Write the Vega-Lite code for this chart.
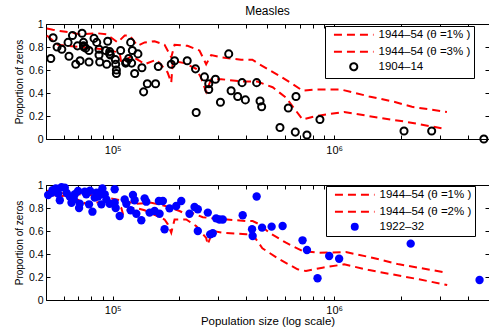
{
  "$schema": "https://vega.github.io/schema/vega-lite/v6.json",
  "padding": {"left": 13, "top": 4, "right": 0, "bottom": 0},
  "bounds": "flush",
  "spacing": 46,
  "config": {
    "font": "Liberation Sans",
    "view": {"stroke": "black", "strokeWidth": 1},
    "axis": {"domain": false, "grid": false, "tickColor": "black", "tickSize": -4, "labelFontSize": 10.5, "labelColor": "black", "labelFont": "Liberation Sans", "titleFontSize": 10, "titleFontWeight": "normal", "titleColor": "black", "titleFont": "Liberation Sans"},
    "title": {"fontSize": 12, "fontWeight": "normal", "font": "Liberation Sans", "color": "black"}
  },
  "datasets": {
    "topLines": [
      {"pop": 50440, "p": 0.96, "series": "1944–54 (θ =1% )"},
      {"pop": 53670, "p": 0.95, "series": "1944–54 (θ =1% )"},
      {"pop": 57720, "p": 0.94, "series": "1944–54 (θ =1% )"},
      {"pop": 67430, "p": 0.92, "series": "1944–54 (θ =1% )"},
      {"pop": 71030, "p": 0.91, "series": "1944–54 (θ =1% )"},
      {"pop": 84720, "p": 0.92, "series": "1944–54 (θ =1% )"},
      {"pop": 93970, "p": 0.91, "series": "1944–54 (θ =1% )"},
      {"pop": 105320, "p": 0.84, "series": "1944–54 (θ =1% )"},
      {"pop": 113270, "p": 0.90, "series": "1944–54 (θ =1% )"},
      {"pop": 119290, "p": 0.90, "series": "1944–54 (θ =1% )"},
      {"pop": 129600, "p": 0.81, "series": "1944–54 (θ =1% )"},
      {"pop": 139400, "p": 0.84, "series": "1944–54 (θ =1% )"},
      {"pop": 154600, "p": 0.85, "series": "1944–54 (θ =1% )"},
      {"pop": 171500, "p": 0.82, "series": "1944–54 (θ =1% )"},
      {"pop": 183860, "p": 0.71, "series": "1944–54 (θ =1% )"},
      {"pop": 190270, "p": 0.82, "series": "1944–54 (θ =1% )"},
      {"pop": 217700, "p": 0.81, "series": "1944–54 (θ =1% )"},
      {"pop": 246500, "p": 0.77, "series": "1944–54 (θ =1% )"},
      {"pop": 264300, "p": 0.65, "series": "1944–54 (θ =1% )"},
      {"pop": 278400, "p": 0.73, "series": "1944–54 (θ =1% )"},
      {"pop": 309700, "p": 0.71, "series": "1944–54 (θ =1% )"},
      {"pop": 379900, "p": 0.69, "series": "1944–54 (θ =1% )"},
      {"pop": 427100, "p": 0.69, "series": "1944–54 (θ =1% )"},
      {"pop": 459400, "p": 0.65, "series": "1944–54 (θ =1% )"},
      {"pop": 565200, "p": 0.55, "series": "1944–54 (θ =1% )"},
      {"pop": 646900, "p": 0.48, "series": "1944–54 (θ =1% )"},
      {"pop": 719800, "p": 0.42, "series": "1944–54 (θ =1% )"},
      {"pop": 829800, "p": 0.43, "series": "1944–54 (θ =1% )"},
      {"pop": 1075000, "p": 0.43, "series": "1944–54 (θ =1% )"},
      {"pop": 1438000, "p": 0.37, "series": "1944–54 (θ =1% )"},
      {"pop": 1897000, "p": 0.32, "series": "1944–54 (θ =1% )"},
      {"pop": 2244000, "p": 0.28, "series": "1944–54 (θ =1% )"},
      {"pop": 3228000, "p": 0.235, "series": "1944–54 (θ =1% )"},
      {"pop": 50440, "p": 0.90, "series": "1944–54 (θ =3% )"},
      {"pop": 56540, "p": 0.82, "series": "1944–54 (θ =3% )"},
      {"pop": 71030, "p": 0.80, "series": "1944–54 (θ =3% )"},
      {"pop": 92040, "p": 0.78, "series": "1944–54 (θ =3% )"},
      {"pop": 107530, "p": 0.75, "series": "1944–54 (θ =3% )"},
      {"pop": 109450, "p": 0.66, "series": "1944–54 (θ =3% )"},
      {"pop": 121400, "p": 0.72, "series": "1944–54 (θ =3% )"},
      {"pop": 132310, "p": 0.68, "series": "1944–54 (θ =3% )"},
      {"pop": 139400, "p": 0.65, "series": "1944–54 (θ =3% )"},
      {"pop": 157840, "p": 0.69, "series": "1944–54 (θ =3% )"},
      {"pop": 176900, "p": 0.58, "series": "1944–54 (θ =3% )"},
      {"pop": 183860, "p": 0.49, "series": "1944–54 (θ =3% )"},
      {"pop": 186930, "p": 0.68, "series": "1944–54 (θ =3% )"},
      {"pop": 211000, "p": 0.66, "series": "1944–54 (θ =3% )"},
      {"pop": 238230, "p": 0.61, "series": "1944–54 (θ =3% )"},
      {"pop": 250900, "p": 0.53, "series": "1944–54 (θ =3% )"},
      {"pop": 264300, "p": 0.41, "series": "1944–54 (θ =3% )"},
      {"pop": 278400, "p": 0.52, "series": "1944–54 (θ =3% )"},
      {"pop": 309700, "p": 0.52, "series": "1944–54 (θ =3% )"},
      {"pop": 381100, "p": 0.50, "series": "1944–54 (θ =3% )"},
      {"pop": 450000, "p": 0.50, "series": "1944–54 (θ =3% )"},
      {"pop": 527400, "p": 0.45, "series": "1944–54 (θ =3% )"},
      {"pop": 605900, "p": 0.36, "series": "1944–54 (θ =3% )"},
      {"pop": 719800, "p": 0.17, "series": "1944–54 (θ =3% )"},
      {"pop": 827300, "p": 0.20, "series": "1944–54 (θ =3% )"},
      {"pop": 1109000, "p": 0.235, "series": "1944–54 (θ =3% )"},
      {"pop": 1595000, "p": 0.185, "series": "1944–54 (θ =3% )"},
      {"pop": 2104000, "p": 0.15, "series": "1944–54 (θ =3% )"},
      {"pop": 3130000, "p": 0.09, "series": "1944–54 (θ =3% )"}
    ],
    "topPts": [
      {"pop": 52560, "p": 0.70, "series": "1904–14"},
      {"pop": 53830, "p": 0.88, "series": "1904–14"},
      {"pop": 56110, "p": 0.80, "series": "1904–14"},
      {"pop": 58930, "p": 0.78, "series": "1904–14"},
      {"pop": 62890, "p": 0.84, "series": "1904–14"},
      {"pop": 63500, "p": 0.72, "series": "1904–14"},
      {"pop": 65840, "p": 0.90, "series": "1904–14"},
      {"pop": 68130, "p": 0.65, "series": "1904–14"},
      {"pop": 69350, "p": 0.81, "series": "1904–14"},
      {"pop": 71240, "p": 0.68, "series": "1904–14"},
      {"pop": 72730, "p": 0.92, "series": "1904–14"},
      {"pop": 73800, "p": 0.84, "series": "1904–14"},
      {"pop": 73800, "p": 0.81, "series": "1904–14"},
      {"pop": 74200, "p": 0.80, "series": "1904–14"},
      {"pop": 75580, "p": 0.79, "series": "1904–14"},
      {"pop": 78200, "p": 0.77, "series": "1904–14"},
      {"pop": 78200, "p": 0.67, "series": "1904–14"},
      {"pop": 82380, "p": 0.875, "series": "1904–14"},
      {"pop": 84720, "p": 0.84, "series": "1904–14"},
      {"pop": 86760, "p": 0.78, "series": "1904–14"},
      {"pop": 86760, "p": 0.73, "series": "1904–14"},
      {"pop": 87380, "p": 0.67, "series": "1904–14"},
      {"pop": 93000, "p": 0.77, "series": "1904–14"},
      {"pop": 94950, "p": 0.85, "series": "1904–14"},
      {"pop": 93970, "p": 0.65, "series": "1904–14"},
      {"pop": 96940, "p": 0.76, "series": "1904–14"},
      {"pop": 96940, "p": 0.74, "series": "1904–14"},
      {"pop": 97640, "p": 0.73, "series": "1904–14"},
      {"pop": 102850, "p": 0.69, "series": "1904–14"},
      {"pop": 103160, "p": 0.65, "series": "1904–14"},
      {"pop": 103920, "p": 0.60, "series": "1904–14"},
      {"pop": 103920, "p": 0.57, "series": "1904–14"},
      {"pop": 108650, "p": 0.77, "series": "1904–14"},
      {"pop": 114400, "p": 0.66, "series": "1904–14"},
      {"pop": 115290, "p": 0.67, "series": "1904–14"},
      {"pop": 118080, "p": 0.70, "series": "1904–14"},
      {"pop": 120550, "p": 0.84, "series": "1904–14"},
      {"pop": 122680, "p": 0.77, "series": "1904–14"},
      {"pop": 121800, "p": 0.66, "series": "1904–14"},
      {"pop": 125640, "p": 0.57, "series": "1904–14"},
      {"pop": 130020, "p": 0.74, "series": "1904–14"},
      {"pop": 135520, "p": 0.62, "series": "1904–14"},
      {"pop": 137960, "p": 0.41, "series": "1904–14"},
      {"pop": 143350, "p": 0.48, "series": "1904–14"},
      {"pop": 156200, "p": 0.48, "series": "1904–14"},
      {"pop": 160640, "p": 0.63, "series": "1904–14"},
      {"pop": 183860, "p": 0.65, "series": "1904–14"},
      {"pop": 190270, "p": 0.68, "series": "1904–14"},
      {"pop": 217020, "p": 0.68, "series": "1904–14"},
      {"pop": 238230, "p": 0.23, "series": "1904–14"},
      {"pop": 236530, "p": 0.61, "series": "1904–14"},
      {"pop": 259660, "p": 0.54, "series": "1904–14"},
      {"pop": 271520, "p": 0.48, "series": "1904–14"},
      {"pop": 271520, "p": 0.43, "series": "1904–14"},
      {"pop": 291070, "p": 0.52, "series": "1904–14"},
      {"pop": 306550, "p": 0.32, "series": "1904–14"},
      {"pop": 334120, "p": 0.74, "series": "1904–14"},
      {"pop": 342530, "p": 0.42, "series": "1904–14"},
      {"pop": 366770, "p": 0.37, "series": "1904–14"},
      {"pop": 383850, "p": 0.49, "series": "1904–14"},
      {"pop": 397300, "p": 0.34, "series": "1904–14"},
      {"pop": 446700, "p": 0.49, "series": "1904–14"},
      {"pop": 462700, "p": 0.33, "series": "1904–14"},
      {"pop": 470500, "p": 0.28, "series": "1904–14"},
      {"pop": 569200, "p": 0.10, "series": "1904–14"},
      {"pop": 620600, "p": 0.27, "series": "1904–14"},
      {"pop": 672300, "p": 0.37, "series": "1904–14"},
      {"pop": 667400, "p": 0.06, "series": "1904–14"},
      {"pop": 753400, "p": 0.035, "series": "1904–14"},
      {"pop": 862300, "p": 0.17, "series": "1904–14"},
      {"pop": 2067000, "p": 0.07, "series": "1904–14"},
      {"pop": 2755000, "p": 0.07, "series": "1904–14"},
      {"pop": 4740000, "p": 0.0, "series": "1904–14"}
    ],
    "botLines": [
      {"pop": 50440, "p": 0.95, "series": "1944–54 (θ =1% )"},
      {"pop": 57720, "p": 0.93, "series": "1944–54 (θ =1% )"},
      {"pop": 67430, "p": 0.92, "series": "1944–54 (θ =1% )"},
      {"pop": 84720, "p": 0.91, "series": "1944–54 (θ =1% )"},
      {"pop": 93970, "p": 0.89, "series": "1944–54 (θ =1% )"},
      {"pop": 103920, "p": 0.875, "series": "1944–54 (θ =1% )"},
      {"pop": 113270, "p": 0.86, "series": "1944–54 (θ =1% )"},
      {"pop": 127880, "p": 0.837, "series": "1944–54 (θ =1% )"},
      {"pop": 149400, "p": 0.846, "series": "1944–54 (θ =1% )"},
      {"pop": 171500, "p": 0.82, "series": "1944–54 (θ =1% )"},
      {"pop": 200400, "p": 0.774, "series": "1944–54 (θ =1% )"},
      {"pop": 214800, "p": 0.745, "series": "1944–54 (θ =1% )"},
      {"pop": 226200, "p": 0.76, "series": "1944–54 (θ =1% )"},
      {"pop": 255200, "p": 0.72, "series": "1944–54 (θ =1% )"},
      {"pop": 283000, "p": 0.71, "series": "1944–54 (θ =1% )"},
      {"pop": 400300, "p": 0.687, "series": "1944–54 (θ =1% )"},
      {"pop": 428500, "p": 0.687, "series": "1944–54 (θ =1% )"},
      {"pop": 459400, "p": 0.658, "series": "1944–54 (θ =1% )"},
      {"pop": 509500, "p": 0.585, "series": "1944–54 (θ =1% )"},
      {"pop": 605900, "p": 0.498, "series": "1944–54 (θ =1% )"},
      {"pop": 719800, "p": 0.426, "series": "1944–54 (θ =1% )"},
      {"pop": 855900, "p": 0.411, "series": "1944–54 (θ =1% )"},
      {"pop": 1129000, "p": 0.417, "series": "1944–54 (θ =1% )"},
      {"pop": 1486000, "p": 0.368, "series": "1944–54 (θ =1% )"},
      {"pop": 1963000, "p": 0.31, "series": "1944–54 (θ =1% )"},
      {"pop": 3238000, "p": 0.237, "series": "1944–54 (θ =1% )"},
      {"pop": 50440, "p": 0.92, "series": "1944–54 (θ =2% )"},
      {"pop": 57720, "p": 0.90, "series": "1944–54 (θ =2% )"},
      {"pop": 62890, "p": 0.913, "series": "1944–54 (θ =2% )"},
      {"pop": 75580, "p": 0.837, "series": "1944–54 (θ =2% )"},
      {"pop": 87380, "p": 0.85, "series": "1944–54 (θ =2% )"},
      {"pop": 103920, "p": 0.84, "series": "1944–54 (θ =2% )"},
      {"pop": 109450, "p": 0.80, "series": "1944–54 (θ =2% )"},
      {"pop": 111300, "p": 0.745, "series": "1944–54 (θ =2% )"},
      {"pop": 119290, "p": 0.80, "series": "1944–54 (θ =2% )"},
      {"pop": 127880, "p": 0.80, "series": "1944–54 (θ =2% )"},
      {"pop": 139400, "p": 0.78, "series": "1944–54 (θ =2% )"},
      {"pop": 171500, "p": 0.70, "series": "1944–54 (θ =2% )"},
      {"pop": 177500, "p": 0.658, "series": "1944–54 (θ =2% )"},
      {"pop": 183860, "p": 0.585, "series": "1944–54 (θ =2% )"},
      {"pop": 190270, "p": 0.70, "series": "1944–54 (θ =2% )"},
      {"pop": 214800, "p": 0.70, "series": "1944–54 (θ =2% )"},
      {"pop": 238230, "p": 0.643, "series": "1944–54 (θ =2% )"},
      {"pop": 264300, "p": 0.54, "series": "1944–54 (θ =2% )"},
      {"pop": 268800, "p": 0.484, "series": "1944–54 (θ =2% )"},
      {"pop": 283000, "p": 0.60, "series": "1944–54 (θ =2% )"},
      {"pop": 314000, "p": 0.585, "series": "1944–54 (θ =2% )"},
      {"pop": 400300, "p": 0.571, "series": "1944–54 (θ =2% )"},
      {"pop": 428500, "p": 0.571, "series": "1944–54 (θ =2% )"},
      {"pop": 474000, "p": 0.45, "series": "1944–54 (θ =2% )"},
      {"pop": 565200, "p": 0.354, "series": "1944–54 (θ =2% )"},
      {"pop": 683500, "p": 0.267, "series": "1944–54 (θ =2% )"},
      {"pop": 745800, "p": 0.252, "series": "1944–54 (θ =2% )"},
      {"pop": 885800, "p": 0.281, "series": "1944–54 (θ =2% )"},
      {"pop": 1109000, "p": 0.31, "series": "1944–54 (θ =2% )"},
      {"pop": 1438000, "p": 0.26, "series": "1944–54 (θ =2% )"},
      {"pop": 1830000, "p": 0.223, "series": "1944–54 (θ =2% )"},
      {"pop": 2415000, "p": 0.18, "series": "1944–54 (θ =2% )"},
      {"pop": 3238000, "p": 0.13, "series": "1944–54 (θ =2% )"}
    ],
    "botPts": [
      {"pop": 51130, "p": 0.913, "series": "1922–32"},
      {"pop": 52950, "p": 0.933, "series": "1922–32"},
      {"pop": 53500, "p": 0.955, "series": "1922–32"},
      {"pop": 55360, "p": 0.97, "series": "1922–32"},
      {"pop": 56700, "p": 0.925, "series": "1922–32"},
      {"pop": 57720, "p": 0.867, "series": "1922–32"},
      {"pop": 58730, "p": 0.98, "series": "1922–32"},
      {"pop": 60780, "p": 0.977, "series": "1922–32"},
      {"pop": 62000, "p": 0.93, "series": "1922–32"},
      {"pop": 64000, "p": 0.90, "series": "1922–32"},
      {"pop": 65160, "p": 0.846, "series": "1922–32"},
      {"pop": 66730, "p": 0.875, "series": "1922–32"},
      {"pop": 67500, "p": 0.92, "series": "1922–32"},
      {"pop": 69780, "p": 0.948, "series": "1922–32"},
      {"pop": 70510, "p": 0.80, "series": "1922–32"},
      {"pop": 71030, "p": 0.837, "series": "1922–32"},
      {"pop": 74800, "p": 0.942, "series": "1922–32"},
      {"pop": 76000, "p": 0.92, "series": "1922–32"},
      {"pop": 78200, "p": 0.832, "series": "1922–32"},
      {"pop": 79000, "p": 0.95, "series": "1922–32"},
      {"pop": 81020, "p": 0.768, "series": "1922–32"},
      {"pop": 82970, "p": 0.89, "series": "1922–32"},
      {"pop": 84460, "p": 0.933, "series": "1922–32"},
      {"pop": 86000, "p": 0.90, "series": "1922–32"},
      {"pop": 87380, "p": 0.933, "series": "1922–32"},
      {"pop": 88930, "p": 0.832, "series": "1922–32"},
      {"pop": 89870, "p": 0.97, "series": "1922–32"},
      {"pop": 92040, "p": 0.919, "series": "1922–32"},
      {"pop": 93660, "p": 0.875, "series": "1922–32"},
      {"pop": 96940, "p": 0.837, "series": "1922–32"},
      {"pop": 102100, "p": 0.963, "series": "1922–32"},
      {"pop": 102100, "p": 0.846, "series": "1922–32"},
      {"pop": 103160, "p": 0.80, "series": "1922–32"},
      {"pop": 107530, "p": 0.73, "series": "1922–32"},
      {"pop": 113270, "p": 0.875, "series": "1922–32"},
      {"pop": 115290, "p": 0.837, "series": "1922–32"},
      {"pop": 120550, "p": 0.78, "series": "1922–32"},
      {"pop": 123430, "p": 0.913, "series": "1922–32"},
      {"pop": 125640, "p": 0.867, "series": "1922–32"},
      {"pop": 127880, "p": 0.75, "series": "1922–32"},
      {"pop": 134680, "p": 0.693, "series": "1922–32"},
      {"pop": 139400, "p": 0.884, "series": "1922–32"},
      {"pop": 141860, "p": 0.855, "series": "1922–32"},
      {"pop": 146800, "p": 0.76, "series": "1922–32"},
      {"pop": 154600, "p": 0.774, "series": "1922–32"},
      {"pop": 161640, "p": 0.861, "series": "1922–32"},
      {"pop": 162800, "p": 0.75, "series": "1922–32"},
      {"pop": 168500, "p": 0.861, "series": "1922–32"},
      {"pop": 171500, "p": 0.615, "series": "1922–32"},
      {"pop": 180600, "p": 0.797, "series": "1922–32"},
      {"pop": 193600, "p": 0.817, "series": "1922–32"},
      {"pop": 204000, "p": 0.861, "series": "1922–32"},
      {"pop": 222300, "p": 0.75, "series": "1922–32"},
      {"pop": 234200, "p": 0.809, "series": "1922–32"},
      {"pop": 242300, "p": 0.789, "series": "1922–32"},
      {"pop": 242300, "p": 0.60, "series": "1922–32"},
      {"pop": 268800, "p": 0.76, "series": "1922–32"},
      {"pop": 275500, "p": 0.571, "series": "1922–32"},
      {"pop": 283000, "p": 0.58, "series": "1922–32"},
      {"pop": 293100, "p": 0.71, "series": "1922–32"},
      {"pop": 303400, "p": 0.70, "series": "1922–32"},
      {"pop": 314000, "p": 0.70, "series": "1922–32"},
      {"pop": 386300, "p": 0.737, "series": "1922–32"},
      {"pop": 425800, "p": 0.615, "series": "1922–32"},
      {"pop": 428500, "p": 0.557, "series": "1922–32"},
      {"pop": 446700, "p": 0.90, "series": "1922–32"},
      {"pop": 472500, "p": 0.629, "series": "1922–32"},
      {"pop": 521900, "p": 0.638, "series": "1922–32"},
      {"pop": 585000, "p": 0.643, "series": "1922–32"},
      {"pop": 719800, "p": 0.519, "series": "1922–32"},
      {"pop": 753400, "p": 0.435, "series": "1922–32"},
      {"pop": 841100, "p": 0.189, "series": "1922–32"},
      {"pop": 949500, "p": 0.383, "series": "1922–32"},
      {"pop": 1053000, "p": 0.359, "series": "1922–32"},
      {"pop": 2215000, "p": 0.49, "series": "1922–32"},
      {"pop": 4532000, "p": 0.174, "series": "1922–32"}
    ]
  },
  "resolve": {"scale": {"color": "independent"}, "legend": {"color": "independent"}},
  "vconcat": [
    {
      "width": 443,
      "height": 115,
      "title": {"text": "Measles", "offset": 1},
      "layer": [
        {
          "data": {"name": "topLines"},
          "mark": {"type": "line", "strokeDash": [8, 5], "strokeWidth": 2},
          "encoding": {
            "x": {"field": "pop", "type": "quantitative", "scale": {"type": "log", "domain": [50000, 5000000]},
              "axis": {"orient": "top", "labels": false, "title": null, "values": [50000,60000,70000,80000,90000,100000,200000,300000,400000,500000,600000,700000,800000,900000,1000000,2000000,3000000,4000000,5000000]}},
            "y": {"field": "p", "type": "quantitative", "scale": {"domain": [0, 1]},
              "axis": {"orient": "right", "labels": false, "title": null, "values": [0, 0.2, 0.4, 0.6, 0.8, 1]}},
            "color": {"field": "series", "type": "nominal",
              "scale": {"domain": ["1944–54 (θ =1% )", "1944–54 (θ =3% )", "1904–14"], "range": ["#ff0000", "#ff0000", "#000000"]},
              "legend": {
                "title": null, "orient": "none", "legendX": 279, "legendY": 2,
                "strokeColor": "black", "fillColor": "white", "padding": 3, "cornerRadius": 0,
                "labelFontSize": 11.5, "labelFont": "Liberation Sans", "labelColor": "black",
                "symbolSize": 50, "symbolStrokeWidth": 2, "symbolOffset": 20, "labelOffset": 19,
                "rowPadding": -2,
                "encode": {"symbols": {"update": {
                  "shape": {"signal": "datum.value === '1904–14' ? 'circle' : 'M-5.6,0H5.6M0,-1.4M0,1.4'"},
                  "strokeDash": {"signal": "datum.value === '1904–14' ? [1, 0] : [8, 5]"},
                  "fill": {"value": "transparent"},
                  "strokeWidth": {"value": 2}
                }}}
              }}
          }
        },
        {
          "data": {"name": "topPts"},
          "mark": {"type": "point", "filled": false, "size": 50, "strokeWidth": 2, "opacity": 1},
          "encoding": {
            "x": {"field": "pop", "type": "quantitative", "scale": {"type": "log", "domain": [50000, 5000000]},
              "axis": {"orient": "bottom", "title": null, "labelPadding": 9, "labelFontSize": 11, "values": [50000,60000,70000,80000,90000,100000,200000,300000,400000,500000,600000,700000,800000,900000,1000000,2000000,3000000,4000000,5000000],
                "labelExpr": "datum.value == 100000 ? '10⁵' : (datum.value == 1000000 ? '10⁶' : '')"}},
            "y": {"field": "p", "type": "quantitative", "scale": {"domain": [0, 1]},
              "axis": {"orient": "left", "title": "Proportion of zeros", "values": [0, 0.2, 0.4, 0.6, 0.8, 1], "format": "~g", "labelPadding": 7, "titlePadding": 4}},
            "color": {"field": "series", "type": "nominal"}
          }
        }
      ]
    },
    {
      "width": 443,
      "height": 115,
      "layer": [
        {
          "data": {"name": "botLines"},
          "mark": {"type": "line", "strokeDash": [8, 5], "strokeWidth": 2},
          "encoding": {
            "x": {"field": "pop", "type": "quantitative", "scale": {"type": "log", "domain": [50000, 5000000]},
              "axis": {"orient": "top", "labels": false, "title": null, "values": [50000,60000,70000,80000,90000,100000,200000,300000,400000,500000,600000,700000,800000,900000,1000000,2000000,3000000,4000000,5000000]}},
            "y": {"field": "p", "type": "quantitative", "scale": {"domain": [0, 1]},
              "axis": {"orient": "right", "labels": false, "title": null, "values": [0, 0.2, 0.4, 0.6, 0.8, 1]}},
            "color": {"field": "series", "type": "nominal",
              "scale": {"domain": ["1944–54 (θ =1% )", "1944–54 (θ =2% )", "1922–32"], "range": ["#ff0000", "#ff0000", "#0000ff"]},
              "legend": {
                "title": null, "orient": "none", "legendX": 280, "legendY": 1,
                "strokeColor": "black", "fillColor": "white", "padding": 3, "cornerRadius": 0,
                "labelFontSize": 11.5, "labelFont": "Liberation Sans", "labelColor": "black",
                "symbolSize": 50, "symbolStrokeWidth": 2, "symbolOffset": 20, "labelOffset": 19,
                "rowPadding": -2,
                "encode": {"symbols": {"update": {
                  "shape": {"signal": "datum.value === '1922–32' ? 'circle' : 'M-5.6,0H5.6M0,-1.4M0,1.4'"},
                  "size": {"signal": "datum.value === '1922–32' ? 64 : 50"},
                  "strokeDash": {"signal": "datum.value === '1922–32' ? [1, 0] : [8, 5]"},
                  "fill": {"signal": "datum.value === '1922–32' ? '#0000ff' : 'transparent'"},
                  "strokeWidth": {"signal": "datum.value === '1922–32' ? 0 : 2"}
                }}}
              }}
          }
        },
        {
          "data": {"name": "botPts"},
          "mark": {"type": "point", "filled": true, "size": 70, "opacity": 1, "shape": "circle"},
          "encoding": {
            "x": {"field": "pop", "type": "quantitative", "scale": {"type": "log", "domain": [50000, 5000000]},
              "axis": {"orient": "bottom", "title": "Population size (log scale)", "titleFontSize": 11.5, "titlePadding": 0, "labelPadding": 8, "labelFontSize": 11, "values": [50000,60000,70000,80000,90000,100000,200000,300000,400000,500000,600000,700000,800000,900000,1000000,2000000,3000000,4000000,5000000],
                "labelExpr": "datum.value == 100000 ? '10⁵' : (datum.value == 1000000 ? '10⁶' : '')"}},
            "y": {"field": "p", "type": "quantitative", "scale": {"domain": [0, 1]},
              "axis": {"orient": "left", "title": "Proportion of zeros", "values": [0, 0.2, 0.4, 0.6, 0.8, 1], "format": "~g", "labelPadding": 7, "titlePadding": 4}},
            "color": {"field": "series", "type": "nominal"}
          }
        }
      ]
    }
  ]
}
